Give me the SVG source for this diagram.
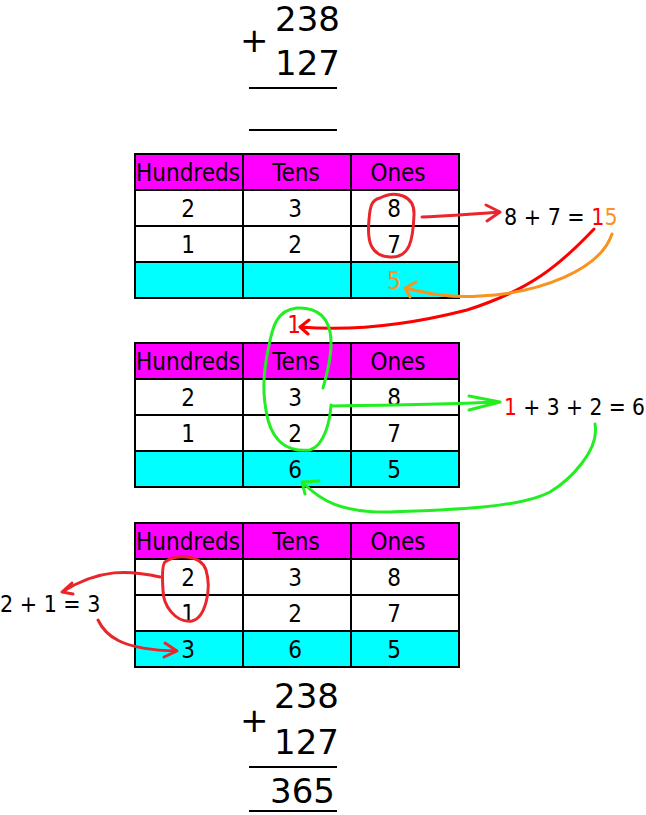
<svg xmlns="http://www.w3.org/2000/svg" width="646" height="815" viewBox="0 0 646 815">
<style>
text{font-family:"DejaVu Sans",Verdana,sans-serif;fill:#000}
.cond{font-family:"DejaVu Sans Condensed","DejaVu Sans",sans-serif;font-stretch:condensed}
.big{font-size:34px}
.hd{font-size:24px;text-anchor:middle}
.dg{font-size:24px;text-anchor:middle}
.eq{font-size:23px}
.hdr{fill:#ff00ff;stroke:#000;stroke-width:2}
.cell{fill:#fff;stroke:#000;stroke-width:2}
.res{fill:#00ffff;stroke:#000;stroke-width:2}
.rule{stroke:#000;stroke-width:2}
.red{fill:none;stroke:#e8262b;stroke-width:3;stroke-linecap:round;stroke-linejoin:round}
.red2{fill:none;stroke:#ff0000;stroke-width:3;stroke-linecap:round;stroke-linejoin:round}
.grn{fill:none;stroke:#22ee22;stroke-width:3;stroke-linecap:round;stroke-linejoin:round}
.org{fill:none;stroke:#f7931e;stroke-width:3;stroke-linecap:round;stroke-linejoin:round}
</style>
<defs>
<g id="tbl">
<rect class="hdr" x="135" y="154" width="108" height="36"/>
<rect class="hdr" x="243" y="154" width="108" height="36"/>
<rect class="hdr" x="351" y="154" width="108" height="36"/>
<rect class="cell" x="135" y="190" width="108" height="36"/>
<rect class="cell" x="243" y="190" width="108" height="36"/>
<rect class="cell" x="351" y="190" width="108" height="36"/>
<rect class="cell" x="135" y="226" width="108" height="36"/>
<rect class="cell" x="243" y="226" width="108" height="36"/>
<rect class="cell" x="351" y="226" width="108" height="36"/>
<rect class="res" x="135" y="262" width="108" height="36"/>
<rect class="res" x="243" y="262" width="108" height="36"/>
<rect class="res" x="351" y="262" width="108" height="36"/>
<text class="hd cond" x="188" y="181">Hundreds</text>
<text class="hd cond" x="296" y="181">Tens</text>
<text class="hd cond" x="398" y="181">Ones</text>
<text class="dg cond" x="188" y="217">2</text>
<text class="dg cond" x="295" y="217">3</text>
<text class="dg cond" x="394" y="217">8</text>
<text class="dg cond" x="188" y="253">1</text>
<text class="dg cond" x="295" y="253">2</text>
<text class="dg cond" x="394" y="253">7</text>
</g>
</defs>

<g id="top-sum">
<text class="big" x="240" y="52">+</text>
<text class="big" x="275" y="31">238</text>
<text class="big" x="275" y="75">127</text>
<line class="rule" x1="249" y1="88" x2="337" y2="88"/>
<line class="rule" x1="249" y1="130" x2="337" y2="130"/>
</g>

<g id="table1">
<use href="#tbl"/>
<text class="dg cond" x="394" y="289" style="fill:#f7931e">5</text>
</g>

<g id="eq1">
<text class="eq cond" x="504" y="225">8 + 7 = <tspan style="fill:#ff0000">1</tspan><tspan style="fill:#f7931e">5</tspan></text>
</g>

<g id="carry1">
<text class="dg cond" x="294" y="333" style="fill:#ff0000">1</text>
</g>

<g id="table2">
<use href="#tbl" y="189"/>
<text class="dg cond" x="295" y="478">6</text>
<text class="dg cond" x="394" y="478">5</text>
</g>

<g id="eq2">
<text class="cond" x="504" y="415" style="font-size:22.5px"><tspan style="fill:#ff0000">1</tspan> + 3 + 2 = 6</text>
</g>

<g id="table3">
<use href="#tbl" y="369"/>
<text class="dg cond" x="188" y="658">3</text>
<text class="dg cond" x="295" y="658">6</text>
<text class="dg cond" x="394" y="658">5</text>
</g>

<g id="eq3">
<text class="eq cond" x="0" y="612">2 + 1 = 3</text>
</g>

<g id="bottom-sum">
<text class="big" x="240" y="732">+</text>
<text class="big" x="274" y="708">238</text>
<text class="big" x="274" y="754">127</text>
<line class="rule" x1="249" y1="767" x2="337" y2="767"/>
<text class="big" x="270" y="803">365</text>
<line class="rule" x1="249" y1="811" x2="337" y2="811"/>
</g>

<g id="connectors">
<path class="red" d="M380,198 C395,190 415,195 414,215 C413,240 410,258 390,257 C370,256 367,240 369,220 C370,205 372,200 380,198"/>
<path class="red" d="M422,217 C450,216 475,214 500,212 M486,205 L500,212 L487,221"/>
<path class="red2" d="M594,229 C560,265 530,290 467,310 C420,322 360,332 300,327 M309,320 L300,327 L308,334"/>
<path class="org" d="M612,234 C600,270 540,293 480,296 C450,298 430,294 405,288 M416,282 L405,288 L410,297"/>
<path class="grn" d="M323,388 C325,380 332,360 331,340 C330,318 318,307 297,308 C275,310 272,330 268,350 C263,375 262,395 268,420 C275,445 290,452 310,450 C325,445 330,420 331,405"/>
<path class="grn" d="M332,406 C400,405 450,404 500,402 M469,396 L500,402 L469,410"/>
<path class="grn" d="M595,424 C600,450 570,480 550,492 C520,508 450,510 390,512 C340,513 320,500 302,482 M319,481 L302,482 L305,494"/>
<path class="red" d="M165,562 C175,555 200,553 206,570 C212,590 205,618 192,621 C175,623 163,605 163,590 C162,575 162,565 165,562"/>
<path class="red" d="M160,577 C130,570 100,568 62,592 M72,583 L62,592 L73,594"/>
<path class="red" d="M98,620 C105,635 120,650 177,651 M165,643 L177,651 L164,657"/>
</g>
</svg>
